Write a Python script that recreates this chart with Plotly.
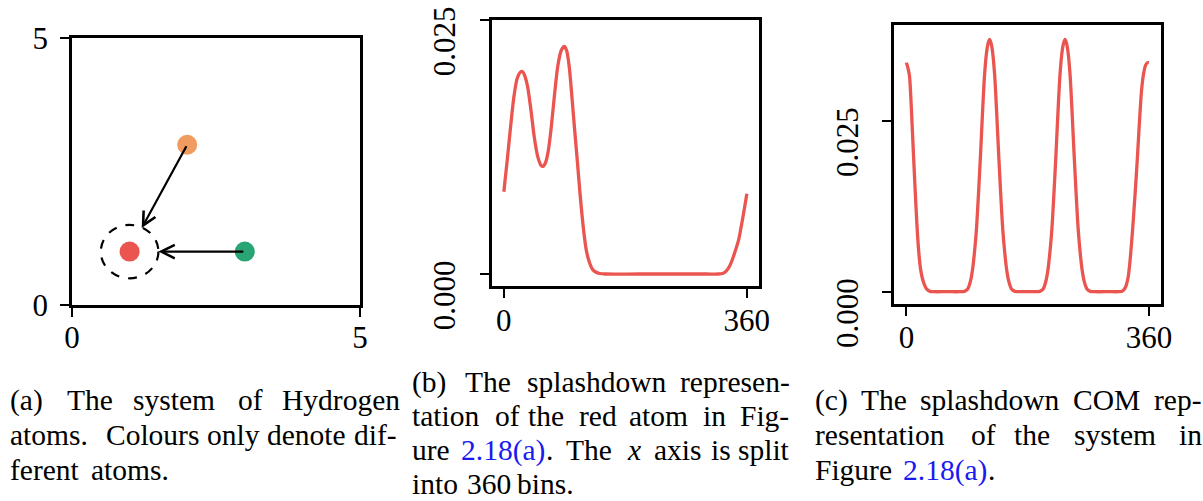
import plotly.graph_objects as go

W, H = 1203, 501

# ---------------- data ----------------
# (a) atom positions
atom_x = [1, 2, 3]
atom_y = [1, 3, 1]
atom_colors = ["#EA5550", "#F09B5F", "#28A573"]

# (b) splashdown of red atom (bins in degrees, density)
deg_b = [0, 5, 10, 15, 20, 25, 28, 31, 35, 40, 45, 50, 55, 58, 62, 66, 70, 75, 80, 85,
         89.5, 93, 97, 101, 105, 109, 113, 118, 122, 126, 131, 136, 142, 150, 200, 250,
         300, 318, 324, 328, 332, 336, 340, 344, 348, 352, 356, 360]
val_b = [0.0081, 0.0112, 0.0145, 0.0175, 0.0193, 0.0199, 0.0199, 0.0195, 0.0185, 0.0162,
         0.0135, 0.0116, 0.0107, 0.0106, 0.0110, 0.0122, 0.0143, 0.0176, 0.0205, 0.0220,
         0.0224, 0.0220, 0.0203, 0.0173, 0.0141, 0.0110, 0.0078, 0.0044, 0.0024, 0.0013,
         0.0005, 0.0002, 0.00005, 0.0, 0.0, 0.0,
         0.0, 0.0, 0.00005, 0.0002, 0.0005, 0.0010, 0.0017, 0.0025, 0.0034, 0.0048, 0.0063, 0.0079]

# (c) splashdown COM of the system
deg_c = [0, 2, 4.5, 6.5, 8.5, 10.5, 13, 15.5, 18, 21, 25, 30, 35, 40, 60, 80,
         86, 91, 95, 98, 101, 104, 107, 110, 113, 116, 119, 121.5, 123.5, 125.5, 128, 131,
         134, 137, 140, 143, 146, 149, 152, 156, 161, 167, 180,
         192, 198, 203, 207, 210, 213, 216, 219, 222, 225, 228, 231, 233.5, 235.5, 237.5,
         240, 243, 246, 249, 252, 255, 258, 261, 264, 268, 273, 279, 300,
         315, 320, 325, 329, 332, 335, 337, 340, 343, 346, 349, 352, 355, 358, 360]
val_c = [0.0335, 0.0328, 0.0316, 0.0285, 0.0243, 0.0200, 0.0148, 0.0100, 0.0062, 0.0033,
         0.0015, 0.0004, 0.00005, 0.0, 0.0, 0.0,
         0.00005, 0.0004, 0.0015, 0.0031, 0.0057, 0.0092, 0.0143, 0.0200, 0.0262, 0.0317,
         0.0350, 0.0364, 0.0369, 0.0364, 0.0350, 0.0317, 0.0262, 0.0200, 0.0143, 0.0092,
         0.0057, 0.0031, 0.0015, 0.0004, 0.00005, 0.0, 0.0,
         0.0, 0.00005, 0.0004, 0.0015, 0.0031, 0.0057, 0.0092, 0.0143, 0.0200, 0.0262,
         0.0317, 0.0350, 0.0364, 0.0369, 0.0364, 0.0350, 0.0317, 0.0262, 0.0200, 0.0143,
         0.0092, 0.0057, 0.0031, 0.0015, 0.0004, 0.00005, 0.0, 0.0,
         0.0, 0.00005, 0.0006, 0.0020, 0.0045, 0.0080, 0.0107, 0.0150, 0.0197, 0.0248,
         0.0293, 0.0318, 0.0331, 0.0335, 0.0335]

# tick labels
ticks_a = [0, 5]
ticklabels_a = ["0", "5"]
ticks_deg = [0, 360]
ticklabels_deg = ["0", "360"]
ticks_dens = [0.0, 0.025]
ticklabels_dens = ["0.000", "0.025"]

LINE_RED = "#EA5550"
SERIF = "Liberation Serif"

# ---------------- figure ----------------
fig = go.Figure()

fig.add_trace(go.Scatter(x=atom_x, y=atom_y, mode="markers",
                         marker=dict(size=20, color=atom_colors, line=dict(width=0)),
                         xaxis="x", yaxis="y", showlegend=False, hoverinfo="skip"))
fig.add_trace(go.Scatter(x=deg_b, y=val_b, mode="lines",
                         line=dict(color=LINE_RED, width=3.3, shape="spline", smoothing=0.8),
                         xaxis="x2", yaxis="y2", showlegend=False, hoverinfo="skip"))
fig.add_trace(go.Scatter(x=deg_c, y=val_c, mode="lines",
                         line=dict(color=LINE_RED, width=3.3, shape="spline", smoothing=0.8),
                         xaxis="x3", yaxis="y3", showlegend=False, hoverinfo="skip"))

def px_x(p):
    return p / W

def px_y(p):
    return 1 - p / H

tickfont = dict(family=SERIF, size=31, color="black")
common = dict(showgrid=False, zeroline=False, showline=True, mirror=True,
              linecolor="black", linewidth=2.8, ticks="outside", ticklen=9,
              tickwidth=2.2, tickcolor="black", tickfont=tickfont, fixedrange=True,
              automargin=False)

fig.update_layout(
    template="none",
    width=W, height=H,
    margin=dict(l=0, r=0, t=0, b=0, pad=0),
    paper_bgcolor="white", plot_bgcolor="white",
    font=dict(family=SERIF, color="black"),
    showlegend=False,
    xaxis=dict(domain=[px_x(72), px_x(360)], range=[0, 5], tickvals=ticks_a,
               ticktext=ticklabels_a, anchor="y", ticklabelstandoff=-6, **common),
    yaxis=dict(domain=[px_y(305), px_y(38)], range=[0, 5], tickvals=ticks_a,
               ticktext=ticklabels_a, anchor="x", ticklabelstandoff=6, **common),
    xaxis2=dict(domain=[px_x(491.7), px_x(759)], range=[-18, 378], tickvals=ticks_deg,
                ticktext=ticklabels_deg, anchor="y2", ticklabelstandoff=-4, **common),
    yaxis2=dict(domain=[px_y(286), px_y(20)], range=[-0.00118, 0.025], tickvals=ticks_dens,
                ticktext=ticklabels_dens, anchor="x2", tickangle=-90,
                ticklabelshift=26, ticklabelstandoff=12, **common),
    xaxis3=dict(domain=[px_x(894.3), px_x(1161)], range=[-18, 378], tickvals=ticks_deg,
                ticktext=ticklabels_deg, anchor="y3", ticklabelstandoff=-5, **common),
    yaxis3=dict(domain=[px_y(304), px_y(25)], range=[-0.0018, 0.039], tickvals=ticks_dens,
                ticktext=ticklabels_dens, anchor="x3", tickangle=-90,
                ticklabelshift=26, ticklabelstandoff=12, **common),
)

# dashed circle around the red atom
fig.add_shape(type="circle", xref="x", yref="y", x0=0.5, x1=1.5, y0=0.5, y1=1.5,
              line=dict(color="black", width=2.2, dash="dash"))

# arrows
for (tx, ty, sx, sy) in [(1.21, 1.44, 2, 3), (1.5, 1.0, 3, 1)]:
    fig.add_annotation(x=tx, y=ty, ax=sx, ay=sy, xref="x", yref="y", axref="x", ayref="y",
                       text="", showarrow=True, arrowhead=5, arrowsize=1.2,
                       arrowwidth=2.2, arrowcolor="black", standoff=0, startstandoff=0)

# captions (word by word to mimic justified text)
BLUE = "#1A1AF0"
CAP = 29.5
caption_words = [
    # (a)
    ("(a)", 8, 400), ("The", 65, 400), ("system", 131, 400), ("of", 236, 400), ("Hydrogen", 280, 400),
    ("atoms.", 8, 435), ("Colours", 104, 435), ("only", 205, 435), ("denote", 265, 435), ("dif-", 352, 435),
    ("ferent", 8, 470), ("atoms.", 89, 470),
    # (b)
    ("(b)", 410, 382), ("The", 463, 382), ("splashdown", 525, 382), ("represen-", 678, 382),
    ("tation", 410, 416), ("of", 493, 416), ("the", 526, 416), ("red", 577, 416),
    ("atom", 627, 416), ("in", 701, 416), ("Fig-", 738, 416),
    ("ure", 410, 450), ("The", 564, 450), ("<i>x</i>", 625, 450),
    ("axis", 652, 450), ("is", 709, 450), ("split", 736, 450),
    ("into", 410, 484), ("360", 465, 484), ("bins.", 515, 484),
    # (c)
    ("(c)", 813, 400), ("The", 859, 400), ("splashdown", 918, 400), ("COM", 1071, 400), ("rep-", 1152, 400),
    ("resentation", 813, 435), ("of", 969, 435), ("the", 1012, 435), ("system", 1072, 435), ("in", 1177, 435),
    ("Figure", 813, 470),
]
# blue cross-references followed by a black full stop
blue_refs = [("2.18(a)", ".", 459, 450), ("2.18(a)", ".", 901, 470)]

for (t, x, y) in caption_words:
    fig.add_annotation(text=t, x=px_x(x), y=px_y(y), xref="paper", yref="paper",
                       xanchor="left", yanchor="middle", showarrow=False,
                       font=dict(family=SERIF, size=CAP, color="black"))
for (t, dot, x, y) in blue_refs:
    fig.add_annotation(text=t, x=px_x(x), y=px_y(y), xref="paper", yref="paper",
                       xanchor="left", yanchor="middle", showarrow=False,
                       font=dict(family=SERIF, size=CAP, color=BLUE))
    fig.add_annotation(text=dot, x=px_x(x + 85), y=px_y(y), xref="paper", yref="paper",
                       xanchor="left", yanchor="middle", showarrow=False,
                       font=dict(family=SERIF, size=CAP, color="black"))

fig.write_html("out.html")
